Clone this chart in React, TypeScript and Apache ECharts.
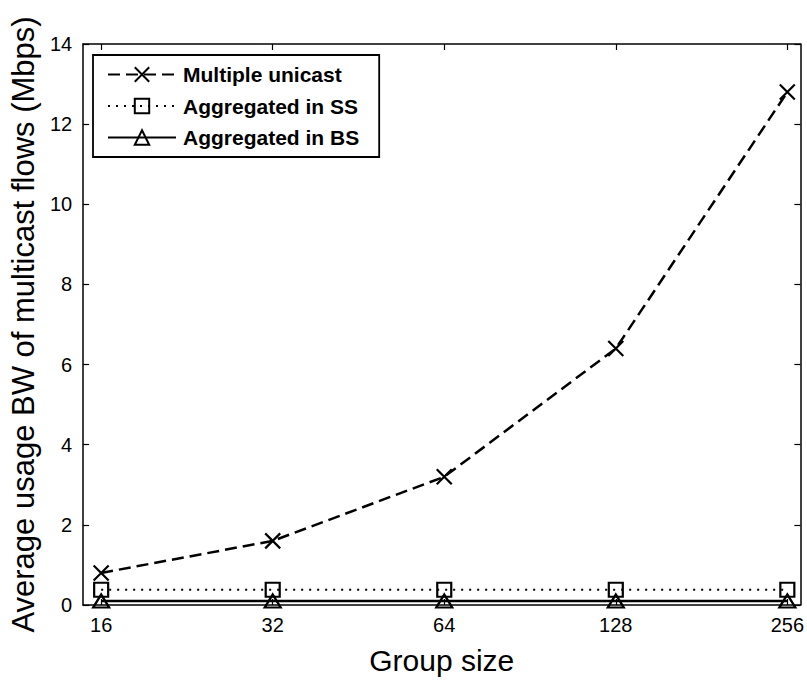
import React, { useEffect, useRef } from "react";
import * as echarts from "echarts";

const groupSizes = [16, 32, 64, 128, 256];
const multipleUnicast = [0.8, 1.6, 3.2, 6.4, 12.8];
const aggregatedSS = [0.38, 0.38, 0.38, 0.38, 0.38];
const aggregatedBS = [0.1, 0.1, 0.1, 0.1, 0.1];
const seriesNames = ["Multiple unicast", "Aggregated in SS", "Aggregated in BS"];
const xTickValues = groupSizes.map((g) => Math.log2(g));

const FONT = "Liberation Sans, Arial, sans-serif";

export default function App() {
  const ref = useRef<HTMLDivElement>(null);
  useEffect(() => {
    if (!ref.current) return;
    const chart = echarts.init(ref.current, undefined, { renderer: "svg" });
    const toPts = (vals: number[]) => groupSizes.map((g, i) => [Math.log2(g), vals[i]]);
    const xBase = {
      type: "value" as const,
      min: 3.895,
      max: 8.076,
      splitLine: { show: false },
      axisLine: { show: true, onZero: false, lineStyle: { color: "#000", width: 1.5 } },
      axisTick: { show: true, inside: true, length: 6, customValues: xTickValues, lineStyle: { color: "#000", width: 1.2 } },
    };
    const yBase = {
      type: "value" as const,
      min: 0,
      max: 14,
      interval: 2,
      splitLine: { show: false },
      axisLine: { show: true, onZero: false, lineStyle: { color: "#000", width: 1.5 } },
      axisTick: { show: true, inside: true, length: 6, lineStyle: { color: "#000", width: 1.2 } },
    };
    chart.setOption({
      animation: false,
      backgroundColor: "#fff",
      grid: { left: 82, top: 44, right: 6, bottom: 74, containLabel: false },
      legend: {
        orient: "vertical",
        left: 93,
        top: 55,
        data: seriesNames,
        backgroundColor: "#fff",
        borderColor: "#000",
        borderWidth: 1.8,
        borderRadius: 0,
        padding: [9, 20, 9, 14],
        itemGap: 10.5,
        itemWidth: 68,
        itemHeight: 18,
        textStyle: { fontFamily: FONT, fontWeight: "bold", fontSize: 21, color: "#000", padding: [0, 0, 0, 2] },
      },
      xAxis: [
        {
          ...xBase,
          position: "bottom",
          name: "Group size",
          nameLocation: "middle",
          nameGap: 40,
          nameTextStyle: { fontFamily: FONT, fontSize: 30, color: "#000" },
          axisLabel: {
            show: true,
            customValues: xTickValues,
            margin: 10,
            fontFamily: FONT,
            fontSize: 20,
            color: "#000",
            formatter: (v: number) => String(groupSizes[xTickValues.indexOf(v)] ?? Math.round(Math.pow(2, v))),
          },
        },
        { ...xBase, position: "top", axisLabel: { show: false } },
      ],
      yAxis: [
        {
          ...yBase,
          position: "left",
          name: "Average usage BW of multicast flows (Mbps)",
          nameLocation: "middle",
          nameGap: 43,
          nameTextStyle: { fontFamily: FONT, fontSize: 31, color: "#000" },
          axisLabel: { show: true, margin: 11, fontFamily: FONT, fontSize: 20, color: "#000" },
        },
        { ...yBase, position: "right", axisLabel: { show: false } },
      ],
      series: [
        {
          name: seriesNames[0],
          type: "line",
          data: toPts(multipleUnicast),
          symbol: "path://M0,0L10,10M10,0L0,10",
          symbolSize: 15,
          showSymbol: true,
          lineStyle: { color: "#000", width: 2.5, type: [12, 6] },
          itemStyle: { color: "none", borderColor: "#000", borderWidth: 2.2 },
          z: 3,
        },
        {
          name: seriesNames[1],
          type: "line",
          data: toPts(aggregatedSS),
          symbol: "rect",
          symbolSize: 14,
          showSymbol: true,
          lineStyle: { color: "#000", width: 2, type: [2, 6] },
          itemStyle: { color: "none", borderColor: "#000", borderWidth: 2.2 },
          z: 2,
        },
        {
          name: seriesNames[2],
          type: "line",
          data: toPts(aggregatedBS),
          symbol: "triangle",
          symbolSize: [16, 13],
          showSymbol: true,
          lineStyle: { color: "#000", width: 2.5, type: "solid" },
          itemStyle: { color: "none", borderColor: "#000", borderWidth: 2.2 },
          z: 2,
        },
      ],
    });
    return () => chart.dispose();
  }, []);
  return (
    <div
      ref={ref}
      style={{ position: "fixed", left: 0, top: 0, width: 807, height: 680, background: "#fff" }}
    />
  );
}
